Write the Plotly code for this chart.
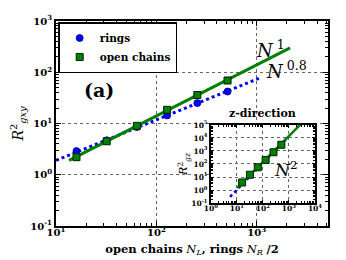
import plotly.graph_objects as go

# ---- data ----
N = [16, 32, 64, 128, 256, 512]
rings_xy = [2.9, 4.7, 8.5, 14.4, 25, 42]
chains_xy = [2.2, 4.5, 9.0, 18.5, 36, 69]
chains_z = [3.8, 15, 56, 205, 800, 3000]

fit1_x = [13.5, 2150]      # N^1 fit (open chains)
fit1_y = [1.9, 300]
fit08_x = [10, 1050]       # N^0.8 fit (rings)
fit08_y = [1.9, 76]
fitz_chain_x = [10.2, 3000]  # N^2 fit (inset, chains)
fitz_chain_y = [1.45, 126000]
fitz_ring_x = [5.5, 1000]    # N^2 fit (inset, rings)
fitz_ring_y = [0.3, 13500]

main_xticks = [10, 100, 1000]
main_xtext = ["10<sup>1</sup>", "10<sup>2</sup>", "10<sup>3</sup>"]
main_yticks = [0.1, 1, 10, 100, 1000]
main_ytext = ["10<sup>-1</sup>", "10<sup>0</sup>", "10<sup>1</sup>", "10<sup>2</sup>", "10<sup>3</sup>"]
ins_xticks = [1, 10, 100, 1000, 10000]
ins_xtext = ["10<sup>0</sup>", "10<sup>1</sup>", "10<sup>2</sup>", "10<sup>3</sup>", "10<sup>4</sup>"]
ins_yticks = [0.1, 1, 10, 100, 1000, 10000, 100000]
ins_ytext = ["10<sup>-1</sup>", "10<sup>0</sup>", "10<sup>1</sup>", "10<sup>2</sup>",
             "10<sup>3</sup>", "10<sup>4</sup>", "10<sup>5</sup>"]

BLUE = "#0000ff"
GREEN = "#008000"
SERIF = "DejaVu Serif"


def minors(lo, hi):
    out = []
    for e in range(lo, hi):
        for m in range(2, 10):
            out.append(m * 10 ** e)
    return out


fig = go.Figure()

# main panel
fig.add_trace(go.Scatter(x=fit08_x, y=fit08_y, mode="lines",
                         line=dict(color=BLUE, width=3, dash="dot"), showlegend=False))
fig.add_trace(go.Scatter(x=fit1_x, y=fit1_y, mode="lines",
                         line=dict(color=GREEN, width=3), showlegend=False))
fig.add_trace(go.Scatter(x=N, y=rings_xy, mode="markers", name="rings",
                         marker=dict(symbol="circle", size=7, color=BLUE,
                                     line=dict(color="#000080", width=0.8))))
fig.add_trace(go.Scatter(x=N, y=chains_xy, mode="markers", name="open chains",
                         marker=dict(symbol="square", size=7, color=GREEN,
                                     line=dict(color="#002000", width=1))))

# inset
fig.add_trace(go.Scatter(x=fitz_ring_x, y=fitz_ring_y, mode="lines", xaxis="x2", yaxis="y2",
                         line=dict(color=BLUE, width=2.5, dash="dot"), showlegend=False))
fig.add_trace(go.Scatter(x=fitz_chain_x, y=fitz_chain_y, mode="lines", xaxis="x2", yaxis="y2",
                         line=dict(color=GREEN, width=2.5), showlegend=False))
fig.add_trace(go.Scatter(x=N, y=chains_z, mode="markers", xaxis="x2", yaxis="y2",
                         marker=dict(symbol="square", size=7, color=GREEN,
                                     line=dict(color="#002000", width=1)), showlegend=False))

axis_common = dict(type="log", showline=True, linecolor="black", linewidth=2,
                   mirror="allticks", ticks="inside", ticklen=5, tickcolor="black",
                   showgrid=True, gridcolor="#666666", griddash="dot", gridwidth=1,
                   zeroline=False, tickmode="array")

# page body has an 8px default margin, so the figure is offset by 8px
fig.update_layout(
    width=338, height=252,
    margin=dict(l=48, r=18, t=5, b=34),
    paper_bgcolor="white", plot_bgcolor="white",
    font=dict(family=SERIF, color="black"),
    xaxis=dict(axis_common, range=[1, 3.71], domain=[0, 1],
               tickvals=main_xticks, ticktext=main_xtext,
               tickfont=dict(size=10, weight="bold"), ticklabelstandoff=-4,
               minor=dict(tickvals=minors(1, 4), ticks="inside", ticklen=3,
                          tickcolor="black", showgrid=False),
               title=dict(text="<b>open chains</b> <i>N</i><sub><i>L</i></sub><b>, rings</b> <i>N</i><sub><i>R</i></sub> <b>/2</b>",
                          font=dict(size=11.5), standoff=8)),
    yaxis=dict(axis_common, range=[-1, 3], domain=[0, 1],
               tickvals=main_yticks, ticktext=main_ytext,
               tickfont=dict(size=10, weight="bold"),
               minor=dict(tickvals=minors(-1, 3), ticks="inside", ticklen=3,
                          tickcolor="black", showgrid=False),
               title=dict(text="<i>R</i><sup>2</sup><sub><i>gxy</i></sub>",
                          font=dict(size=14), standoff=6)),
    xaxis2=dict(axis_common, range=[0, 4], domain=[0.569, 0.952], anchor="y2",
                tickvals=ins_xticks, ticktext=ins_xtext, linewidth=1.5, ticklen=3,
                tickfont=dict(size=7.5, weight="bold"), ticklabelstandoff=-3,
                minor=dict(tickvals=minors(0, 4), ticks="inside", ticklen=2,
                           tickcolor="black", showgrid=False)),
    yaxis2=dict(axis_common, range=[-1, 5], domain=[0.112, 0.493], anchor="x2",
                tickvals=ins_yticks, ticktext=ins_ytext, linewidth=1.5, ticklen=3,
                tickfont=dict(size=7.5, weight="bold"),
                minor=dict(tickvals=minors(-1, 5), ticks="inside", ticklen=2,
                           tickcolor="black", showgrid=False),
                title=dict(text="<i>R</i><sup>2</sup><sub><i>gz</i></sub>",
                           font=dict(size=11), standoff=1)),
    legend=dict(x=0.008, y=0.995, xanchor="left", yanchor="top",
                bgcolor="white", bordercolor="black", borderwidth=1.5,
                font=dict(size=10.5, weight="bold", family=SERIF),
                tracegroupgap=0, itemsizing="trace", itemwidth=30),
    showlegend=True,
)

ann = dict(xref="paper", yref="paper", showarrow=False, xanchor="center", yanchor="middle")
fig.add_annotation(text="<b>(a)</b>", x=0.158, y=0.665, font=dict(size=19, family=SERIF), **ann)
fig.add_annotation(text="<i>N</i><sup> 1</sup>", x=0.787, y=0.865, font=dict(size=18, family=SERIF), **ann)
fig.add_annotation(text="<i>N</i><sup> 0.8</sup>", x=0.846, y=0.76, font=dict(size=18, family=SERIF), **ann)
fig.add_annotation(text="<b>z-direction</b>", x=0.761, y=0.548, font=dict(size=11, family=SERIF), **ann)
fig.add_annotation(text="<i>N</i><sup>2</sup>", x=0.842, y=0.278, font=dict(size=17, family=SERIF), **ann)

fig.write_html("out.html")
